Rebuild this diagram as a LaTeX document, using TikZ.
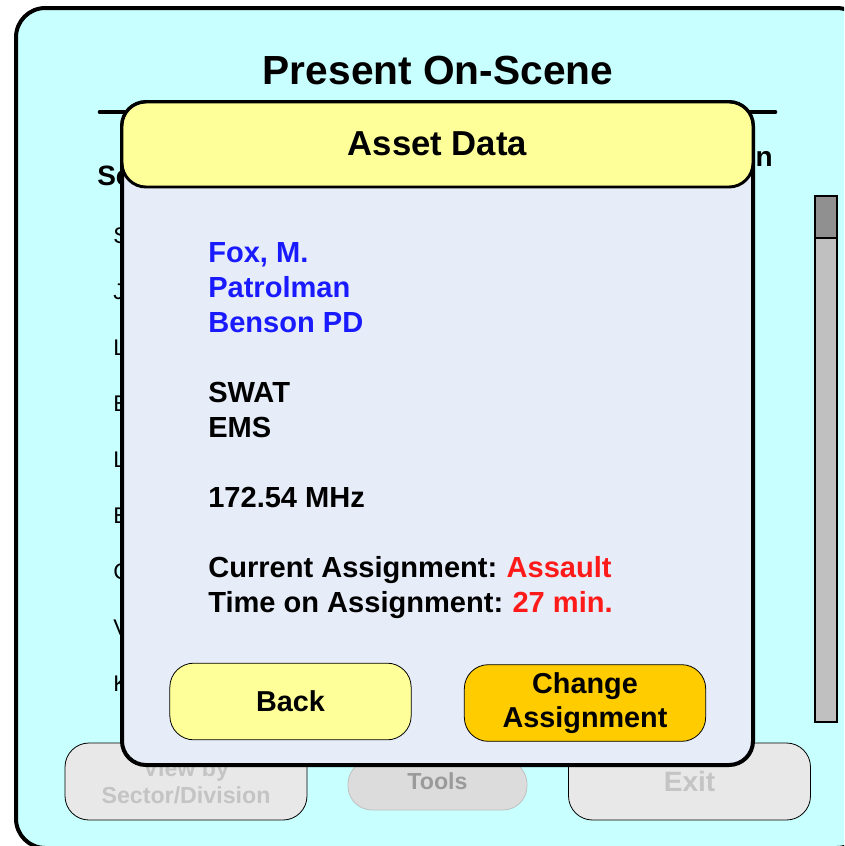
\documentclass[tikz,border=0pt]{standalone}
\usepackage{fontspec}
\setmainfont{Liberation Sans}
\usetikzlibrary{positioning}
\definecolor{screenCyan}{HTML}{C8FFFF}
\definecolor{dialogBlue}{HTML}{E6ECF8}
\definecolor{paleYellow}{HTML}{FFFF99}
\definecolor{goldYellow}{HTML}{FFCC00}
\definecolor{nameBlue}{HTML}{1A1AFF}
\definecolor{alertRed}{HTML}{FF1A1A}
\definecolor{greyedFill}{HTML}{E8E8E8}
\definecolor{toolsFill}{HTML}{DCDCDC}
\definecolor{greyedText}{HTML}{C4C4C4}
\definecolor{toolsText}{HTML}{9A9A9A}
\definecolor{thumbGrey}{HTML}{909090}
\definecolor{trackGrey}{HTML}{C0C0C0}
\newcommand{\myScreen}{%%
  %% Draw the screen frame and its title.
  \draw[frameStyle] (16,8) rectangle (866,848);
  \node[titleStyle] (title) at (438,84.5) {Present On-Scene};
  \coordinate (ruleLeft) at (100,112);
  \coordinate (ruleRight) at (775,112);
  \draw[ruleStyle] (ruleLeft) -- (ruleRight);
  %% Column headers, mostly hidden by the dialog.
  \node[headStyle,anchor=base west] (headLeft) at (97,185) {Sc};
  \node[headStyle,anchor=base east] (headRight) at (773,166) {on};
  %% The list entries.
  \foreach \letter [count=\i from 0] in {S,J,L,E,L,E,C,V,K} {
    \node[listStyle] (entry\i) at (113,243+56*\i) {\letter};
  }
  %% Scroll bar.
  \draw[scrollStyle,fill=trackGrey] (815,196) rectangle (837,722);
  \draw[scrollStyle,fill=thumbGrey] (815,196) rectangle (837,238);
  %% Greyed-out buttons.
  \node[menuStyle,fill=greyedFill,minimum width=181.5pt,minimum height=57.75pt]
    (viewBy) at (186,781.5) {View by\\Sector/Division};
  \node[menuStyle,fill=toolsFill,draw=trackGrey,text=toolsText,
    minimum width=134.25pt,minimum height=37.5pt] (tools) at (437.5,785) {};
  \node[menuLabelStyle,text=toolsText] (toolsLabel) at (tools.center) [yshift=3pt] {Tools};
  \node[menuStyle,fill=greyedFill,minimum width=181.5pt,minimum height=57.75pt,
    font=\fontsize{21}{25}\selectfont\bfseries] (exit) at (689.5,781.5) {Exit};
}
\newcommand{\myDialog}{%%
  %% Draw the dialog box and its header.
  \draw[dialogStyle] (122,102) rectangle (753,765);
  \draw[headerStyle] (122,102) rectangle (753,187);
  \node[dialogTitleStyle] (assetData) at (437.5,155) {Asset Data};
  %% Asset details.
  \node[infoStyle,text=nameBlue] (name) at (208,262) {Fox, M.};
  \node[infoStyle,text=nameBlue] (rank) at (208,297) {Patrolman};
  \node[infoStyle,text=nameBlue] (agency) at (208,332) {Benson PD};
  \node[infoStyle] (teamA) at (208,402) {SWAT};
  \node[infoStyle] (teamB) at (208,437) {EMS};
  \node[infoStyle] (radio) at (208,507) {172.54 MHz};
  \node[infoStyle] (current) at (208,577)
    {Current Assignment:\hspace{0.32em}\textcolor{alertRed}{Assault}};
  \node[infoStyle] (elapsed) at (208,612)
    {Time on Assignment:\hspace{0.32em}\textcolor{alertRed}{27 min.}};
  %% Dialog buttons.
  \node[buttonStyle,fill=paleYellow] (back) at (290.5,701.5) {Back};
  \node[buttonStyle,fill=goldYellow] (change) at (585,703) {Change\\Assignment};
}

\begin{document}
\begin{tikzpicture}[x=0.75pt,y=-0.75pt,%%
  frameStyle/.style={draw=black,line width=3pt,fill=screenCyan,rounded corners=22pt},%%
  titleStyle/.style={anchor=base,inner sep=0pt,font=\fontsize{30.5}{36}\selectfont\bfseries},%%
  ruleStyle/.style={line width=3.5pt,line cap=round},%%
  headStyle/.style={inner sep=0pt,font=\fontsize{21}{25}\selectfont\bfseries},%%
  listStyle/.style={anchor=base west,inner sep=0pt,font=\fontsize{17}{20}\selectfont},%%
  scrollStyle/.style={draw=black,line width=2.2pt},%%
  menuStyle/.style={draw=black,line width=0.6pt,rounded corners=18pt,align=center,
    text=greyedText,font=\fontsize{17.4}{20.5}\selectfont\bfseries},%%
  menuLabelStyle/.style={inner sep=0pt,font=\fontsize{17.4}{20.5}\selectfont\bfseries},%%
  dialogStyle/.style={draw=black,line width=3pt,fill=dialogBlue,rounded corners=18pt},%%
  headerStyle/.style={draw=black,line width=2.2pt,fill=paleYellow,rounded corners=18pt},%%
  dialogTitleStyle/.style={anchor=base,inner sep=0pt,font=\fontsize{26}{31}\selectfont\bfseries},%%
  infoStyle/.style={anchor=base west,inner sep=0pt,font=\fontsize{21.8}{26}\selectfont\bfseries},%%
  buttonStyle/.style={draw=black,line width=0.6pt,rounded corners=18pt,align=center,
    minimum width=181pt,minimum height=57.5pt,
    font=\fontsize{21.6}{26}\selectfont\bfseries}
]
\useasboundingbox (0,0) rectangle (844,846);
\clip (0,0) rectangle (844,846);
%%
%% The screen behind the dialog.
\myScreen
%%
%% The asset dialog on top.
\myDialog
\end{tikzpicture}
\end{document}
